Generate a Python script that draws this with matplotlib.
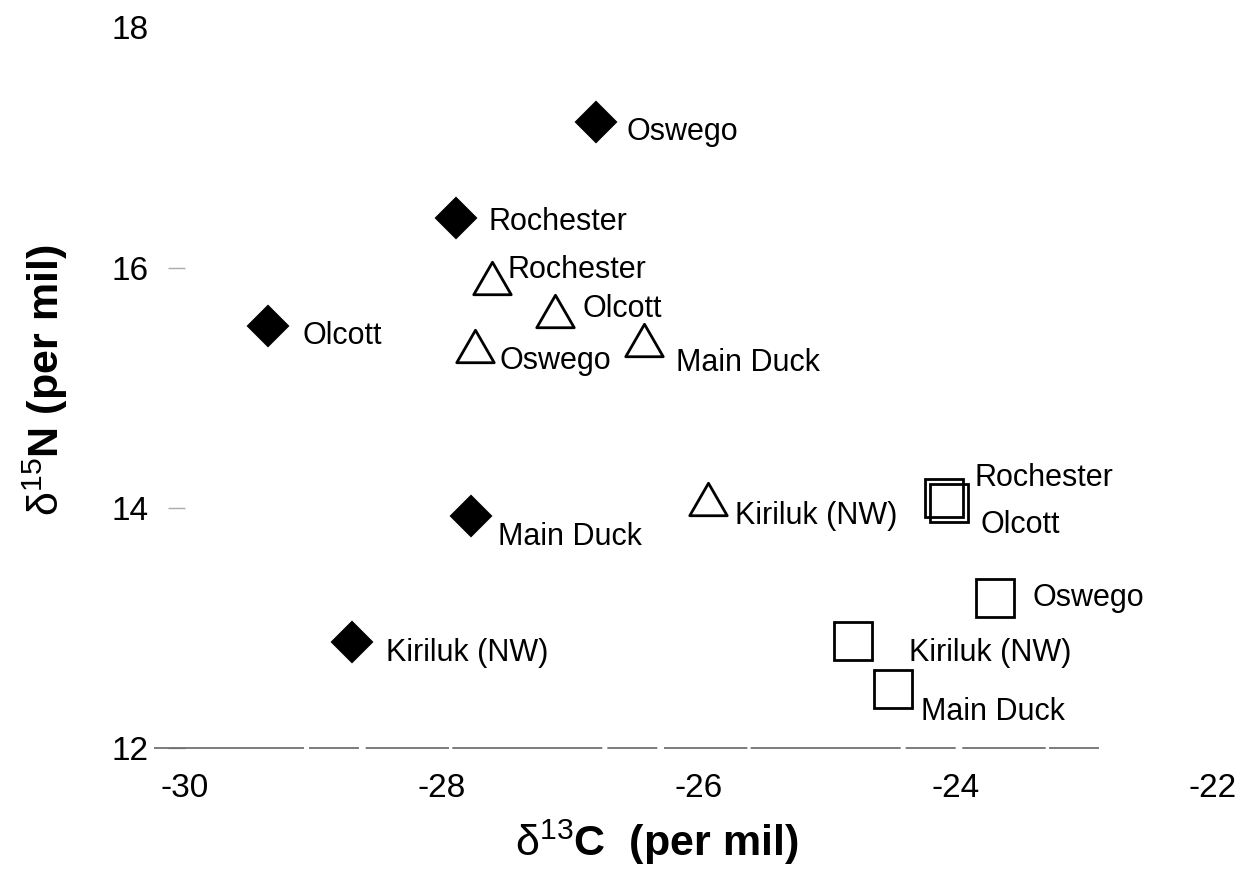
import matplotlib as mpl
mpl.use('Agg')
import matplotlib.pyplot as plt
from matplotlib.path import Path

plt.rcParams['font.family'] = ['Liberation Sans', 'DejaVu Sans']
plt.rcParams['axes.unicode_minus'] = False
plt.rcParams['mathtext.fontset'] = 'custom'
plt.rcParams['mathtext.rm'] = 'Liberation Sans'
plt.rcParams['mathtext.it'] = 'Liberation Sans:italic'
plt.rcParams['mathtext.bf'] = 'Liberation Sans:bold'

# d13C / d15N per site, three sample groups
sites_diamond = ['Oswego', 'Rochester', 'Olcott', 'Main Duck', 'Kiriluk (NW)']
c13_diamond = [-26.80, -27.89, -29.35, -27.77, -28.70]
n15_diamond = [17.21, 16.41, 15.51, 13.93, 12.88]

sites_triangle = ['Rochester', 'Olcott', 'Oswego', 'Main Duck', 'Kiriluk (NW)']
c13_triangle = [-27.61, -27.12, -27.74, -26.43, -25.93]
n15_triangle = [15.91, 15.64, 15.35, 15.40, 14.07]

sites_square = ['Rochester', 'Olcott', 'Oswego', 'Kiriluk (NW)', 'Main Duck']
c13_square = [-24.09, -24.05, -23.69, -24.80, -24.49]
n15_square = [14.08, 14.04, 13.25, 12.89, 12.49]

# label offsets in pixels (dx right, dy up)
off_diamond = [(30, -10), (32, -4), (34, -10), (27, -21), (34, -11)]
off_triangle = [(16, 8), (28, 2), (24, -15), (32, -23), (27, -17)]
off_square = [(30, 20), (31, -22), (37, 0), (56, -12), (28, -23)]

tri = Path([(-1, -0.866), (1, -0.866), (0, 0.866), (-1, -0.866)],
           [Path.MOVETO, Path.LINETO, Path.LINETO, Path.CLOSEPOLY])

fig = plt.figure(figsize=(12.5, 8.82), dpi=100)
ax = fig.add_axes([0.148, 0.152, 0.822, 0.817])

ax.plot(c13_diamond, n15_diamond, ls='', marker='D', ms=20, mfc='black',
        mec='black', mew=1.5)
ax.plot(c13_triangle, n15_triangle, ls='', marker=tri, ms=27, mfc='white',
        mec='black', mew=2)
ax.plot(c13_square, n15_square, ls='', marker='s', ms=27, mfc='none',
        mec='black', mew=2)

for names, xs, ys, offs in [(sites_diamond, c13_diamond, n15_diamond, off_diamond),
                            (sites_triangle, c13_triangle, n15_triangle, off_triangle),
                            (sites_square, c13_square, n15_square, off_square)]:
    for name, x, y, (dx, dy) in zip(names, xs, ys, offs):
        ax.annotate(name, (x, y), xytext=(dx, dy), textcoords='offset pixels',
                    ha='left', va='center', fontsize=22)

ax.set_xlim(-30, -22)
ax.set_ylim(12, 18)
ax.set_xticks([-30, -28, -26, -24, -22])
ax.set_yticks([12, 14, 16, 18])
ax.tick_params(axis='x', length=0, pad=18, labelsize=24)
ax.tick_params(axis='y', direction='out', length=12, width=1, color='#aaaaaa',
               pad=14, labelsize=24)
ax.yaxis.get_major_ticks()[-1].tick1line.set_visible(False)
for s in ax.spines.values():
    s.set_visible(False)

# faint broken baseline
ax.axhline(12, xmin=-0.03, xmax=0.89, color='#666666', lw=1.2,
           dashes=(90, 3, 30, 4, 50, 2), clip_on=False)

ax.set_xlabel(r'$\mathrm{\delta}^{13}$C  (per mil)', fontsize=31, fontweight='bold')
ax.set_ylabel(r'$\mathrm{\delta}^{15}$N (per mil)', fontsize=31, fontweight='bold')
ax.xaxis.set_label_coords(0.459, -0.097)
ax.yaxis.set_label_coords(-0.112, 0.51)

fig.savefig('out.png', dpi=100)
